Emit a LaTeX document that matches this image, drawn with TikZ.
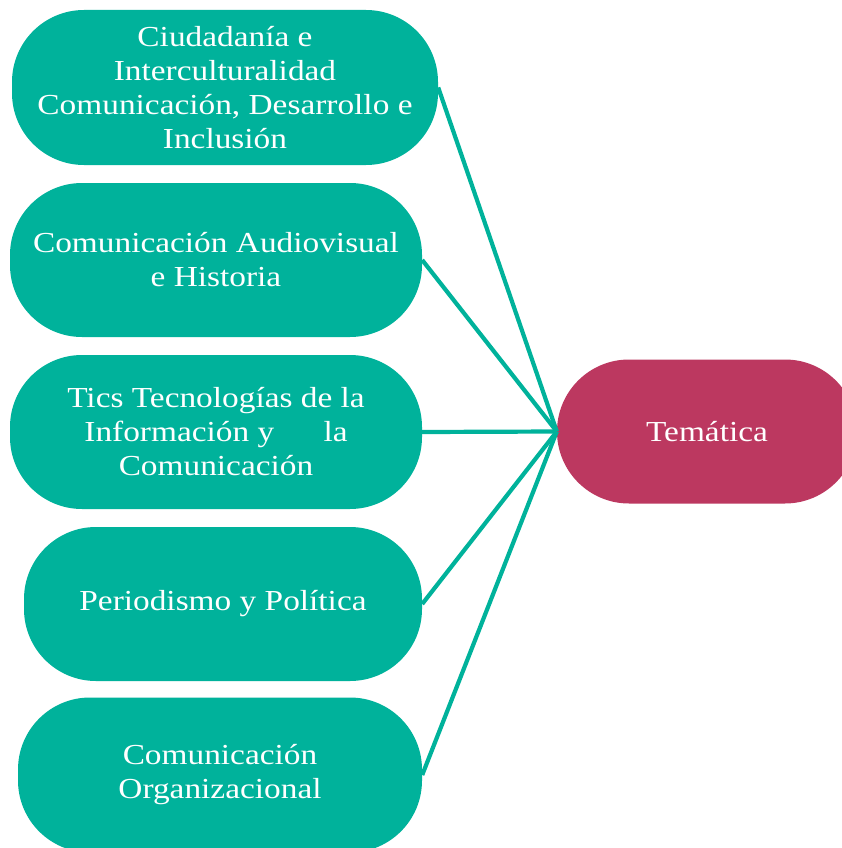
\documentclass[tikz,border=0pt]{standalone}
\usepackage{fontspec}
\setmainfont[FakeStretch=1.15]{Liberation Serif}
\definecolor{teal1}{HTML}{00B29B}
\definecolor{rose1}{HTML}{BC3860}
\begin{document}
\begin{tikzpicture}[x=1pt,y=-1pt,
  pill/.style={draw=none,fill=teal1,rounded corners=72pt,text=white,align=center,
    font=\fontsize{29}{34}\selectfont,inner sep=0pt},
  link/.style={draw=teal1,line width=4.2pt}]
\useasboundingbox (0,0) rectangle (842,848);
\clip (0,0) rectangle (842,848);
\node[pill,minimum width=426pt,minimum height=155pt] (b1) at (225,87.5) {Ciudadanía e\\Interculturalidad\\Comunicación, Desarrollo e\\Inclusión};
\node[pill,minimum width=412pt,minimum height=154pt] (b2) at (216,260) {Comunicación Audiovisual\\e Historia};
\node[pill,minimum width=412pt,minimum height=154pt] (b3) at (216,432) {Tics Tecnologías de la\\Información y\hspace{1.7em}la\\Comunicación};
\node[pill,minimum width=398pt,minimum height=154pt] (b4) at (223,604) {Periodismo y Política};
\node[pill,minimum width=404pt,minimum height=155pt] (b5) at (220,775) {Comunicación\\Organizacional};
\node[pill,fill=rose1,minimum width=300pt,minimum height=144pt] (t) at (707,431.5) {Temática};
\coordinate (hub) at (t.west);
\draw[link] (hub) -- (b1.east);
\draw[link] (hub) -- (b2.east);
\draw[link] (hub) -- (b3.east);
\draw[link] (hub) -- (b4.east);
\draw[link] (hub) -- (b5.east);
\end{tikzpicture}
\end{document}
